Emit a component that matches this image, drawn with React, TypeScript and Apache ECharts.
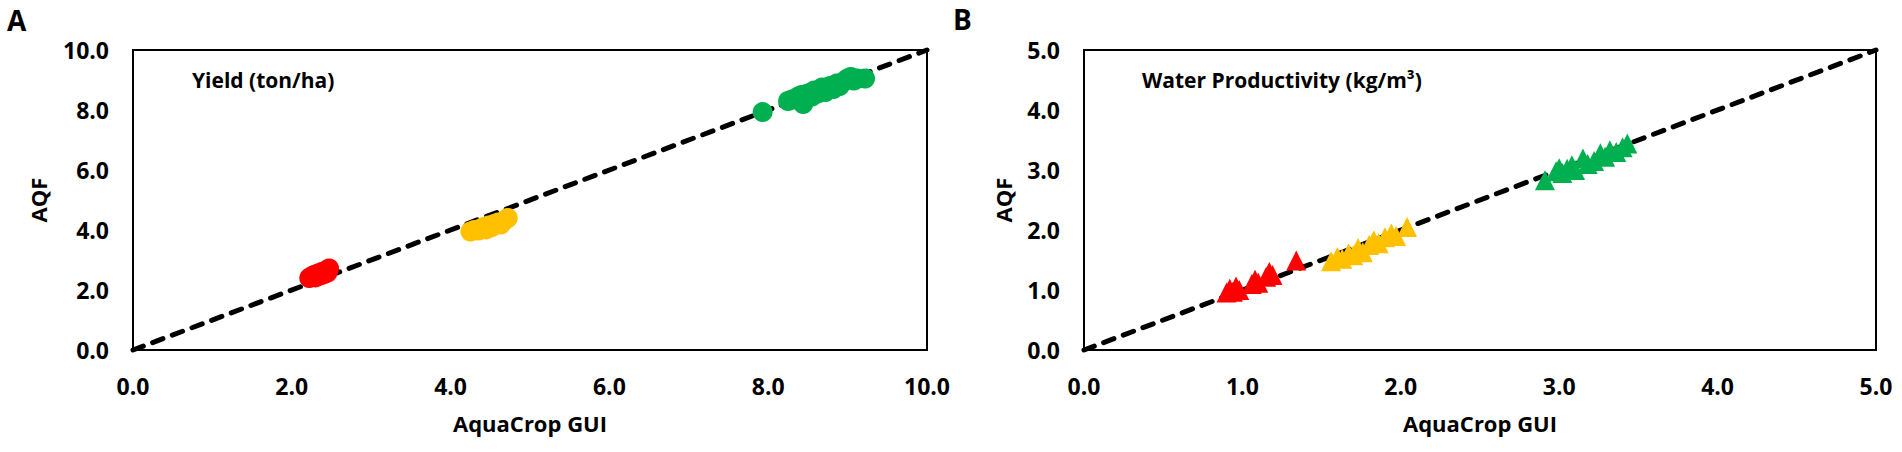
import React, { useEffect, useRef } from "react";
import * as echarts from "echarts";

// Panel A: Yield (ton/ha) — [AquaCrop GUI, AQF]
const yieldRed: number[][] = [
  [2.22, 2.4], [2.25, 2.45], [2.28, 2.5], [2.3, 2.42], [2.33, 2.55], [2.35, 2.48],
  [2.38, 2.6], [2.4, 2.52], [2.43, 2.65], [2.45, 2.58], [2.47, 2.72],
];
const yieldYellow: number[][] = [
  [4.25, 3.95], [4.3, 4.0], [4.35, 3.98], [4.38, 4.05], [4.42, 4.1], [4.45, 4.02],
  [4.48, 4.15], [4.52, 4.1], [4.55, 4.2], [4.6, 4.25], [4.63, 4.18], [4.67, 4.3], [4.72, 4.4],
];
const yieldGreen: number[][] = [
  [7.93, 7.93], [8.25, 8.3], [8.3, 8.35], [8.38, 8.45], [8.44, 8.2], [8.42, 8.5],
  [8.5, 8.55], [8.55, 8.45], [8.58, 8.65], [8.62, 8.55], [8.68, 8.75], [8.72, 8.6],
  [8.78, 8.8], [8.82, 8.7], [8.86, 8.88], [8.9, 8.8], [8.95, 8.95], [9.0, 9.05],
  [9.04, 9.1], [9.08, 8.98], [9.12, 9.05], [9.22, 9.05],
];
const yieldLine: number[][] = [[0, 0], [10, 10]];

// Panel B: Water Productivity (kg/m³)
const wpRed: number[][] = [
  [0.9, 0.96], [0.92, 1.02], [0.94, 0.97], [0.96, 1.06], [0.98, 1.0],
  [1.06, 1.1], [1.08, 1.17], [1.1, 1.12],
  [1.15, 1.22], [1.17, 1.3], [1.19, 1.25],
  [1.34, 1.49],
];
const wpYellow: number[][] = [
  [1.56, 1.48], [1.6, 1.55], [1.63, 1.52], [1.67, 1.61], [1.7, 1.58], [1.73, 1.7],
  [1.76, 1.63], [1.8, 1.75], [1.83, 1.83], [1.86, 1.78], [1.9, 1.88], [1.94, 1.94],
  [1.97, 1.9], [2.04, 2.05],
];
const wpGreen: number[][] = [
  [2.91, 2.83], [2.98, 2.98], [3.0, 3.03], [3.02, 2.95], [3.05, 3.02], [3.08, 3.08],
  [3.1, 3.0], [3.15, 3.19], [3.18, 3.1], [3.22, 3.15], [3.26, 3.28], [3.29, 3.22],
  [3.32, 3.33], [3.36, 3.3], [3.4, 3.38], [3.43, 3.44],
];
const wpLine: number[][] = [[0, 0], [5, 5]];

const RED = "#FF0000";
const YELLOW = "#FFC000";
const GREEN = "#00B050";
const FONT = "'Open Sans', 'DejaVu Sans', sans-serif";

function axisCommon(max: number, interval: number, name: string, nameGap: number) {
  return {
    type: "value",
    min: 0,
    max,
    interval,
    name,
    nameLocation: "middle",
    nameGap,
    nameTextStyle: { fontFamily: FONT, fontWeight: "bold", fontSize: 22, color: "#000" },
    axisLine: { show: true, lineStyle: { color: "#000", width: 2 } },
    axisTick: { show: false },
    splitLine: { show: false },
    axisLabel: {
      fontFamily: FONT,
      fontWeight: "bold",
      fontSize: 23,
      color: "#000",
      margin: 24,
      formatter: (v: number) => v.toFixed(1),
    },
  };
}

function scatter(data: number[][], color: string, symbol: string, xi: number) {
  return {
    type: "scatter",
    xAxisIndex: xi,
    yAxisIndex: xi,
    data,
    symbol,
    symbolSize: 20,
    itemStyle: { color, opacity: 1 },
    z: 3,
  };
}

function dashLine(data: number[][], xi: number) {
  return {
    type: "line",
    xAxisIndex: xi,
    yAxisIndex: xi,
    data,
    symbol: "none",
    clip: false,
    lineStyle: { color: "#000", width: 5, type: [11, 10], cap: "round" },
    z: 2,
  };
}

export default function App() {
  const ref = useRef<HTMLDivElement>(null);
  useEffect(() => {
    if (!ref.current) return;
    const chart = echarts.init(ref.current, null, { renderer: "svg" });
    chart.setOption({
      animation: false,
      backgroundColor: "#fff",
      grid: [
        { left: 133, top: 50, width: 794, height: 300, show: true, borderColor: "#000", borderWidth: 2 },
        { left: 1084, top: 50, width: 792, height: 300, show: true, borderColor: "#000", borderWidth: 2 },
      ],
      xAxis: [
        { ...axisCommon(10, 2, "AquaCrop GUI", 62), gridIndex: 0 },
        { ...axisCommon(5, 1, "AquaCrop GUI", 62), gridIndex: 1 },
      ],
      yAxis: [
        { ...axisCommon(10, 2, "AQF", 84), gridIndex: 0 },
        { ...axisCommon(5, 1, "AQF", 70), gridIndex: 1 },
      ],
      graphic: [
        { type: "text", x: 7, y: 20, style: { text: "A", font: `bold 28px ${FONT}`, fill: "#000", verticalAlign: "middle" } },
        { type: "text", x: 953, y: 19, style: { text: "B", font: `bold 28px ${FONT}`, fill: "#000", verticalAlign: "middle" } },
        { type: "text", x: 192, y: 80, style: { text: "Yield (ton/ha)", font: `bold 21px ${FONT}`, fill: "#000", verticalAlign: "middle" } },
        { type: "text", x: 1142, y: 80, style: { text: "Water Productivity (kg/m³)", font: `bold 21px ${FONT}`, fill: "#000", verticalAlign: "middle" } },
      ],
      series: [
        dashLine(yieldLine, 0),
        scatter(yieldRed, RED, "circle", 0),
        scatter(yieldYellow, YELLOW, "circle", 0),
        scatter(yieldGreen, GREEN, "circle", 0),
        dashLine(wpLine, 1),
        scatter(wpRed, RED, "triangle", 1),
        scatter(wpYellow, YELLOW, "triangle", 1),
        scatter(wpGreen, GREEN, "triangle", 1),
      ],
    });
    return () => chart.dispose();
  }, []);
  return (
    <div
      ref={ref}
      style={{ position: "absolute", left: 0, top: 0, width: 1902, height: 452 }}
    />
  );
}
